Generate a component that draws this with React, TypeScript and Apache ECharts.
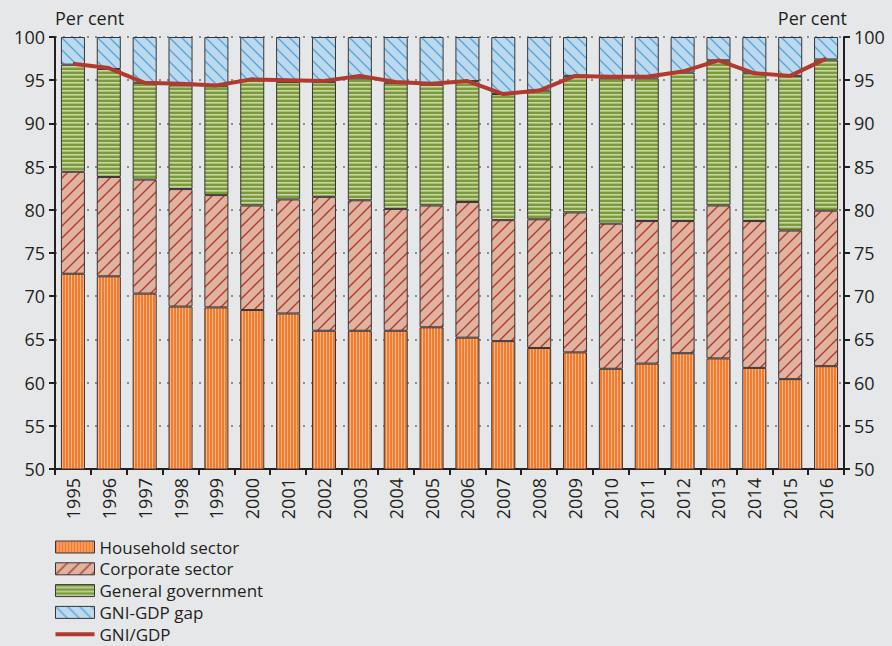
import React, { useEffect, useRef } from "react";
import * as echarts from "echarts";

const years = ["1995","1996","1997","1998","1999","2000","2001","2002","2003","2004","2005","2006","2007","2008","2009","2010","2011","2012","2013","2014","2015","2016"];
const household = [72.6, 72.3, 70.3, 68.8, 68.7, 68.4, 68.0, 66.0, 66.0, 66.0, 66.4, 65.2, 64.8, 64.0, 63.5, 61.6, 62.2, 63.4, 62.8, 61.7, 60.4, 61.9];
const corporate = [11.8, 11.5, 13.2, 13.6, 13.0, 12.1, 13.2, 15.5, 15.1, 14.1, 14.1, 15.7, 14.0, 14.9, 16.2, 16.8, 16.5, 15.3, 17.7, 17.0, 17.2, 18.0];
const government = [12.4, 12.5, 11.2, 12.0, 12.6, 14.5, 13.6, 13.3, 14.1, 14.6, 14.0, 14.0, 14.6, 14.9, 15.8, 16.8, 16.5, 17.2, 16.8, 17.1, 17.9, 17.5];
const gap = [3.2, 3.7, 5.3, 5.6, 5.7, 5.0, 5.2, 5.2, 4.8, 5.3, 5.5, 5.1, 6.6, 6.2, 4.5, 4.8, 4.8, 4.1, 2.7, 4.2, 4.5, 2.6];
const gniGdp = [96.9, 96.4, 94.7, 94.6, 94.4, 95.1, 95.0, 94.9, 95.5, 94.8, 94.6, 94.9, 93.4, 93.8, 95.5, 95.4, 95.4, 96.0, 97.3, 95.8, 95.5, 97.5];
const yTicks = [50, 55, 60, 65, 70, 75, 80, 85, 90, 95, 100];

const FONT = "'Open Sans', sans-serif";
const TEXT = "#231f20";
const FS = 18;

function makePattern(w: number, h: number, draw: (ctx: CanvasRenderingContext2D) => void) {
  const c = document.createElement("canvas");
  c.width = w;
  c.height = h;
  const ctx = c.getContext("2d")!;
  draw(ctx);
  return { image: c, repeat: "repeat", imageWidth: w, imageHeight: h } as any;
}

export default function App() {
  const ref = useRef<HTMLDivElement>(null);
  useEffect(() => {
    if (!ref.current) return;
    const chart = echarts.init(ref.current, undefined, { renderer: "svg" });

    const hhPat = makePattern(3, 4, (ctx) => {
      ctx.fillStyle = "#f47a2c";
      ctx.fillRect(0, 0, 3, 4);
      ctx.fillStyle = "#f9b68c";
      ctx.fillRect(2, 0, 1, 4);
    });
    const corpPat = makePattern(12, 12, (ctx) => {
      ctx.fillStyle = "#e0b2a0";
      ctx.fillRect(0, 0, 12, 12);
      ctx.strokeStyle = "#ae3a2e";
      ctx.lineWidth = 1.4;
      ctx.beginPath();
      ctx.moveTo(-1, 13);
      ctx.lineTo(13, -1);
      ctx.moveTo(-7, 7);
      ctx.lineTo(7, -7);
      ctx.moveTo(5, 19);
      ctx.lineTo(19, 5);
      ctx.stroke();
    });
    const govPat = makePattern(4, 4, (ctx) => {
      ctx.fillStyle = "#7b9a3c";
      ctx.fillRect(0, 0, 4, 4);
      ctx.fillStyle = "#c8d6a3";
      ctx.fillRect(0, 2, 4, 1.6);
    });
    const gapPat = makePattern(12, 12, (ctx) => {
      ctx.fillStyle = "#bcd9ee";
      ctx.fillRect(0, 0, 12, 12);
      ctx.strokeStyle = "#5ba6d8";
      ctx.lineWidth = 1.4;
      ctx.beginPath();
      ctx.moveTo(-1, -1);
      ctx.lineTo(13, 13);
      ctx.moveTo(5, -7);
      ctx.lineTo(19, 7);
      ctx.moveTo(-7, 5);
      ctx.lineTo(7, 19);
      ctx.stroke();
    });

    const barBase = {
      type: "bar",
      stack: "total",
      barCategoryGap: "33%",
      yAxisIndex: 0,
    };
    const border = { borderColor: "#3a3535", borderWidth: 1 };

    const yAxisCommon = {
      type: "value",
      min: 50,
      max: 100,
      interval: 5,
      axisLine: { show: true, lineStyle: { color: TEXT, width: 2 } },
      axisTick: { show: true, length: 6, lineStyle: { color: TEXT, width: 2 } },
      axisLabel: {
        color: TEXT,
        fontSize: FS,
        fontFamily: FONT,
        margin: 10,
        formatter: (v: number) => (yTicks.includes(v) ? String(v) : ""),
      },
    };

    chart.setOption({
      animation: false,
      backgroundColor: "#e6e7e9",
      textStyle: { fontFamily: FONT },
      grid: { left: 55, right: 48, top: 37, bottom: 177, containLabel: false },
      legend: {
        orient: "vertical",
        left: 55,
        top: 538,
        height: 160,
        padding: 0,
        itemWidth: 39,
        itemHeight: 12,
        itemGap: 3.8,
        textStyle: { color: TEXT, fontSize: 17, fontFamily: FONT, lineHeight: 18 },
        data: [
          { name: "Household sector", icon: "rect", itemStyle: border },
          { name: "Corporate sector", icon: "rect", itemStyle: border },
          { name: "General government", icon: "rect", itemStyle: border },
          { name: "GNI-GDP gap", icon: "rect", itemStyle: border },
          { name: "GNI/GDP", icon: "path://M0,0 L38,0 L38,4 L0,4 Z", itemStyle: { color: "#b03a2e" } },
        ],
      },
      graphic: [
        { type: "text", left: 55, top: 9, style: { text: "Per cent", fill: TEXT, fontSize: FS, fontFamily: FONT } },
        { type: "text", right: 45, top: 9, style: { text: "Per cent", fill: TEXT, fontSize: FS, fontFamily: FONT } },
      ],
      xAxis: {
        type: "category",
        data: years,
        axisLine: { lineStyle: { color: TEXT, width: 2 } },
        axisTick: { show: true, alignWithLabel: false, length: 6, lineStyle: { color: TEXT, width: 2 } },
        axisLabel: { rotate: 90, color: TEXT, fontSize: FS, fontFamily: FONT, margin: 9 },
        splitLine: { show: false },
      },
      yAxis: [
        {
          ...yAxisCommon,
          position: "left",
          splitLine: { show: true, lineStyle: { color: "#6f6f6f", width: 1.5, type: [2, 6] } },
        },
        {
          ...yAxisCommon,
          position: "right",
          splitLine: { show: false },
        },
      ],
      series: [
        { ...barBase, name: "Household sector", data: household, itemStyle: { color: hhPat, ...border } },
        { ...barBase, name: "Corporate sector", data: corporate, itemStyle: { color: corpPat, ...border } },
        { ...barBase, name: "General government", data: government, itemStyle: { color: govPat, ...border } },
        { ...barBase, name: "GNI-GDP gap", data: gap, itemStyle: { color: gapPat, ...border } },
        {
          type: "line",
          name: "GNI/GDP",
          data: gniGdp,
          yAxisIndex: 0,
          symbol: "none",
          z: 10,
          lineStyle: { color: "#b03a2e", width: 4 },
          itemStyle: { color: "#b03a2e" },
        },
      ],
    });
    return () => chart.dispose();
  }, []);
  return <div ref={ref} style={{ position: "fixed", left: 0, top: 0, width: 892, height: 646 }} />;
}
